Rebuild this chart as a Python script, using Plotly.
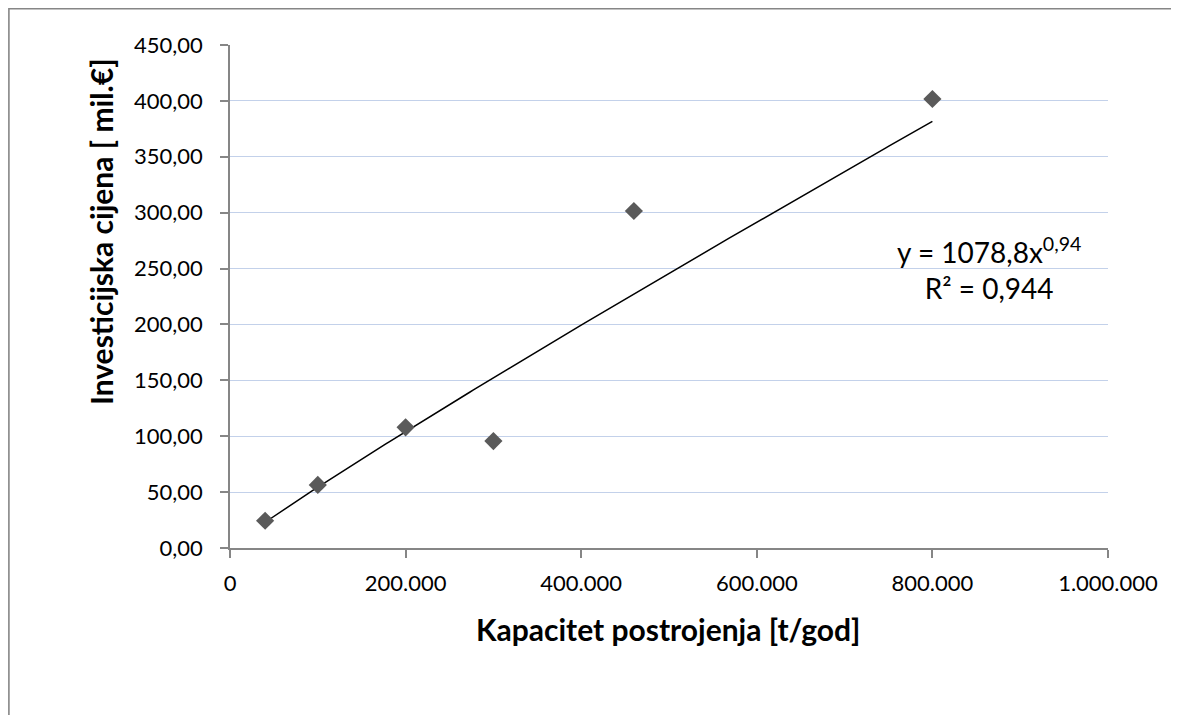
import numpy as np
import plotly.graph_objects as go

# Data
capacity = [40000, 100000, 200000, 300000, 460000, 800000]   # t/god
investment = [24.4, 56.4, 108.0, 95.7, 301.5, 401.7]          # mil. €

x_ticks = [0, 200000, 400000, 600000, 800000, 1000000]
y_ticks = [0, 50, 100, 150, 200, 250, 300, 350, 400, 450]

x_title = "Kapacitet postrojenja [t/god]"
y_title = "Investicijska cijena [ mil.€]"
equation_text = "y = 1078,8x<sup>0,94</sup><br>R² = 0,944"

# Power trendline fitted from the data (log-log least squares)
lx = np.log(np.array(capacity, dtype=float))
ly = np.log(np.array(investment, dtype=float))
b, ln_a = np.polyfit(lx, ly, 1)
trend_x = np.linspace(min(capacity), max(capacity), 200)
trend_y = np.exp(ln_a) * trend_x ** b

FONT = "Lato"
OFF = 8  # page body margin offset
W, H = 1179 - OFF, 715 - OFF
ML, MR, MT, MB = 230 - OFF, 71, 45 - OFF, 167
PW, PH = W - ML - MR, H - MT - MB

def px(X):
    return (X - OFF - ML) / PW

def py(Y):
    return (H - MB - (Y - OFF)) / PH

fig = go.Figure()
fig.add_trace(go.Scatter(
    x=trend_x, y=trend_y, mode="lines",
    line=dict(color="#000000", width=1.5),
    hoverinfo="skip", showlegend=False,
))
fig.add_trace(go.Scatter(
    x=capacity, y=investment, mode="markers",
    marker=dict(symbol="diamond", size=14, color="#5a5a5a",
                line=dict(width=0)),
    showlegend=False,
))

axis_common = dict(
    showline=True, linecolor="#868686", linewidth=1.5,
    ticks="outside", ticklen=8, tickwidth=1.5, tickcolor="#868686",
    tickfont=dict(family=FONT, size=22, color="#000000"),
    zeroline=False,
)

fig.update_xaxes(
    range=[0, 1000000], tickvals=x_ticks, tickformat=",d",
    showgrid=False, ticklabelstandoff=7, **axis_common,
)
fig.update_yaxes(
    range=[0, 450], tickvals=y_ticks, tickformat=".2f",
    showgrid=True, gridcolor="#c3d1ea", gridwidth=1.2,
    ticklabelstandoff=13, **axis_common,
)

fig.add_annotation(
    text=f"<b>{x_title}</b>", xref="paper", yref="paper",
    x=px(668), y=py(629), showarrow=False,
    font=dict(family=FONT, size=30, color="#000000"),
    xanchor="center", yanchor="middle",
)
fig.add_annotation(
    text=f"<b>{y_title}</b>", xref="paper", yref="paper",
    x=px(101), y=py(232), showarrow=False, textangle=-90,
    font=dict(family=FONT, size=30, color="#000000"),
    xanchor="center", yanchor="middle",
)
fig.add_annotation(
    text=equation_text, xref="paper", yref="paper",
    x=px(989), y=py(268), showarrow=False,
    font=dict(family=FONT, size=28, color="#000000"),
    xanchor="center", yanchor="middle", align="center",
)

# Chart-area border
fig.add_shape(
    type="rect", xref="paper", yref="paper",
    x0=px(8.9), x1=px(1200), y0=py(740), y1=py(8.6),
    line=dict(color="#868686", width=1.6), fillcolor="rgba(0,0,0,0)",
    layer="above",
)

fig.update_layout(
    width=W, height=H,
    margin=dict(l=ML, r=MR, t=MT, b=MB),
    paper_bgcolor="#ffffff", plot_bgcolor="#ffffff",
    separators=",.",
    font=dict(family=FONT, color="#000000"),
    showlegend=False,
)

fig.write_html("out.html")
